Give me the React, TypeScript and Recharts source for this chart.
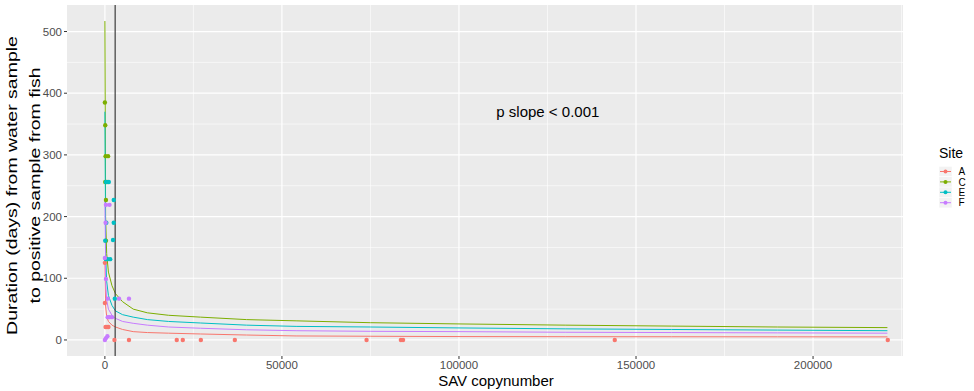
import React from 'react';
import { ComposedChart, Scatter, Line, XAxis, YAxis, CartesianGrid, ReferenceLine, ReferenceDot, Label } from 'recharts';

const siteNames = ['A', 'C', 'E', 'F'];
const siteColors = ['#F8766D', '#7CAE00', '#00BFC4', '#C77CFF'];

// observed points per site: [copynumber, days]
const pointsA = [
  [0, 125], [0, 60], [200, 21], [600, 21], [1000, 21],
  [2700, 0], [6800, 0], [20300, 0], [22000, 0], [27100, 0], [36700, 0],
  [73900, 0], [83600, 0], [84200, 0], [144000, 0], [221100, 0],
];
const pointsC = [
  [0, 385], [100, 348], [200, 298], [900, 298], [100, 256], [600, 256],
  [300, 227], [300, 161],
];
const pointsE = [
  [300, 256], [1100, 256], [2500, 227], [400, 190], [2500, 190], [100, 161], [2300, 162],
  [300, 131], [800, 131], [1500, 131], [2800, 67],
];
const pointsF = [
  [300, 219], [1300, 219], [200, 190], [0, 133], [300, 99],
  [800, 67], [4000, 67], [6800, 67], [800, 37], [1300, 37], [2000, 37],
  [0, 0], [300, 3], [700, 6],
];

// fitted curves
const fitX = [1, 200, 500, 1000, 2000, 3000, 5000, 8000, 12000, 18000, 27000, 40000, 54000, 75000, 100000, 130000, 160000, 190000, 221000];
const fitA = [130, 55, 38, 30, 24, 21, 17, 13.5, 12, 11, 9.7, 8, 6.5, 6, 5.5, 5.3, 5.2, 5.1, 5];
const fitC = [517, 200, 140, 110, 88, 75, 62, 50, 44, 40, 37, 33, 31, 28, 26, 24, 22.5, 21, 20];
const fitE = [370, 140, 95, 72, 56, 47, 41, 37, 33, 30, 27.5, 24, 22, 21, 19.5, 18, 17, 16, 15];
const fitF = [230, 95, 65, 50, 40, 35, 30, 27, 24, 21, 19, 16.5, 15, 14, 13.5, 12.5, 12, 11.5, 11];

const xTicks = [0, 50000, 100000, 150000, 200000];
const xMinor = [25000, 75000, 125000, 175000, 225000];
const yTicks = [0, 100, 200, 300, 400, 500];
const yMinor = [50, 150, 250, 350, 450];

const cutoff = 2900;

const pointSets = [pointsA, pointsC, pointsE, pointsF];
const fitSets = [fitA, fitC, fitE, fitF];

const FONT = '"Liberation Sans", Arial, sans-serif';

const toRows = (pts: number[][]) => pts.map(([x, y]) => ({ x, y }));
const fitRows = (ys: number[]) => fitX.map((x, i) => ({ x, y: ys[i] }));

const Dot = (props: any) => <circle cx={props.cx} cy={props.cy} r={2.2} fill={props.fill} />;

const App: React.FC = () => {
  const tickStyle = { fontSize: 11.5, fill: '#4D4D4D', fontFamily: FONT };

  return (
    <div style={{ position: 'absolute', left: 0, top: 0, width: 974, height: 391, background: '#fff', fontFamily: FONT }}>
      <ComposedChart width={974} height={391} margin={{ top: 5, right: 71, bottom: 0, left: 0 }}>
        <CartesianGrid fill="#EBEBEB" stroke="#fff" strokeWidth={0.6} horizontalValues={yMinor} verticalValues={xMinor} />
        <CartesianGrid stroke="#fff" strokeWidth={1.2} horizontalValues={yTicks} verticalValues={xTicks} />
        <XAxis
          type="number"
          dataKey="x"
          domain={[-10700, 225400]}
          allowDataOverflow
          ticks={xTicks}
          height={35}
          tickSize={3}
          tickMargin={2}
          axisLine={false}
          tickLine={{ stroke: '#333' }}
          tick={tickStyle}
        >
          <Label
            content={(p: any) => (
              <text x={p.viewBox.x + p.viewBox.width / 2 + 11} y={385.5} textAnchor="middle" fontSize={15} fill="#000" fontFamily={FONT}>
                SAV copynumber
              </text>
            )}
          />
        </XAxis>
        <YAxis
          type="number"
          dataKey="y"
          domain={[-26, 543]}
          allowDataOverflow
          ticks={yTicks}
          width={67}
          tickSize={3}
          tickMargin={2}
          axisLine={false}
          tickLine={{ stroke: '#333' }}
          tick={tickStyle}
        >
          <Label
            content={(p: any) => {
              const cy = p.viewBox.y + p.viewBox.height / 2 + 5;
              return (
                <g fontSize={19.5} fill="#000" fontFamily={FONT}>
                  <text transform={`translate(17,${cy}) rotate(-90) scale(1,0.78)`} textAnchor="middle">Duration (days) from water sample</text>
                  <text transform={`translate(39.5,${cy}) rotate(-90) scale(1,0.78)`} textAnchor="middle">to positive sample from fish</text>
                </g>
              );
            }}
          />
        </YAxis>
        {pointSets.map((pts, i) => (
          <Scatter key={'p' + i} name={siteNames[i]} data={toRows(pts)} fill={siteColors[i]} shape={Dot} isAnimationActive={false} />
        ))}
        {fitSets.map((ys, i) => (
          <Line
            key={'l' + i}
            data={fitRows(ys)}
            dataKey="y"
            type="linear"
            stroke={siteColors[i]}
            strokeWidth={1}
            dot={false}
            activeDot={false}
            isAnimationActive={false}
          />
        ))}
        <ReferenceLine x={cutoff} stroke="#3C3C3C" strokeWidth={1.2} />
        <ReferenceDot
          x={125100}
          y={369.5}
          r={0}
          stroke="none"
          fill="none"
          label={{ value: 'p slope < 0.001', position: 'center', fontSize: 15, fill: '#000', fontFamily: FONT }}
        />
      </ComposedChart>
      <svg width={974} height={391} style={{ position: 'absolute', left: 0, top: 0, pointerEvents: 'none' }}>
        <text x={939} y={158} fontSize={14} fill="#000" fontFamily={FONT}>Site</text>
        {siteNames.map((name, i) => {
          const cy = 171.5 + i * 10.4;
          return (
            <g key={name}>
              <rect x={939} y={cy - 5.2} width={13} height={10.4} fill="#F2F2F2" stroke="#fff" strokeWidth={0.5} />
              <line x1={940} x2={951} y1={cy} y2={cy} stroke={siteColors[i]} strokeWidth={1} />
              <circle cx={945.5} cy={cy} r={2} fill={siteColors[i]} />
              <text x={958.5} y={cy + 3.6} fontSize={10} fill="#000" fontFamily={FONT}>{name}</text>
            </g>
          );
        })}
      </svg>
    </div>
  );
};

export default App;
